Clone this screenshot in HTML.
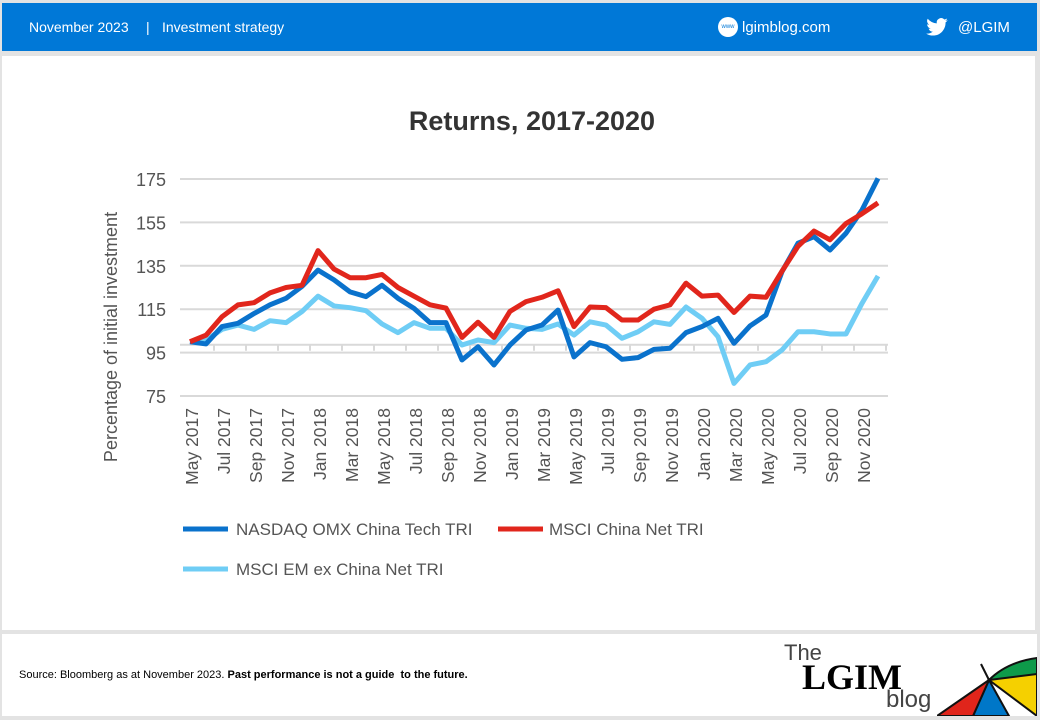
<!DOCTYPE html>
<html><head><meta charset="utf-8"><style>
body{margin:0;width:1040px;height:720px;background:#e3e3e3;font-family:"Liberation Sans",sans-serif;overflow:hidden;position:relative}
.hdr{position:absolute;left:2px;top:3px;width:1035px;height:48px;background:#0078d7;color:#fff;font-size:14px}
.panel{position:absolute;left:2px;top:56px;width:1033px;height:574px;background:#fff}
.foot{position:absolute;left:2px;top:634px;width:1035px;height:82px;background:#fff}
</style></head><body>
<div class="hdr">
<span style="position:absolute;left:27px;top:16px">November 2023</span>
<span style="position:absolute;left:144px;top:16px">|</span>
<span style="position:absolute;left:160px;top:16px">Investment strategy</span>
<span style="position:absolute;left:716px;top:14px;width:20px;height:20px;border-radius:50%;background:#fff;color:#0078d7;font-size:6px;text-align:center;line-height:20px">www</span>
<span style="position:absolute;left:740px;top:16px;font-size:15px">lgimblog.com</span>
<svg style="position:absolute;left:924px;top:15px" width="22" height="18" viewBox="0 0 24 20"><path fill="#fff" d="M24 2.4a10 10 0 0 1-2.8.8A5 5 0 0 0 23.3.5a10 10 0 0 1-3.1 1.2A4.9 4.9 0 0 0 11.8 6 14 14 0 0 1 1.7.9a4.9 4.9 0 0 0 1.5 6.6A4.9 4.9 0 0 1 1 6.9a4.9 4.9 0 0 0 3.9 4.8 5 5 0 0 1-2.2.1 4.9 4.9 0 0 0 4.6 3.4A9.9 9.9 0 0 1 0 17.3 14 14 0 0 0 7.5 19.5c9 0 14-7.5 14-14v-.6A10 10 0 0 0 24 2.4z"/></svg>
<span style="position:absolute;left:956px;top:16px;font-size:15px">@LGIM</span>
</div>
<div class="panel"></div>
<div class="foot">
<span style="position:absolute;left:17px;top:35px;font-size:11px;color:#000">Source: Bloomberg as at November 2023. <b>Past performance is not a guide&nbsp; to the future.</b></span>
<span style="position:absolute;left:782px;top:6px;font-size:22px;color:#444">The</span>
<span style="position:absolute;left:800px;top:22px;font-size:36px;font-weight:bold;font-family:'Liberation Serif',serif;color:#000">LGIM</span>
<span style="position:absolute;left:884px;top:52px;font-size:24px;color:#444">blog</span>
<svg style="position:absolute;left:935px;top:0" width="100" height="82">
<clipPath id="cp"><rect width="100" height="82"/></clipPath>
<g clip-path="url(#cp)" stroke="#111" stroke-width="2">
<path d="M52 46 L100 26 L100 82 Z" fill="#f5d000"/>
<path d="M52 46 L36 82 L72 82 Z" fill="#0077c8"/>
<path d="M52 46 L0 82 L36 82 Z" fill="#e0251b"/>
<path d="M52 46 Q70 28 100 24 L100 40 Z" fill="#0e9a4a"/>
<path d="M44 30 L52 46" fill="none"/>
</g></svg>
</div>
<svg width="1040" height="720" style="position:absolute;left:0;top:0" id="chart">
<text x="532" y="130" text-anchor="middle" font-size="27" font-weight="bold" fill="#333">Returns, 2017-2020</text>
<text transform="translate(117,337) rotate(-90)" text-anchor="middle" font-size="18" fill="#555">Percentage of initial investment</text>
<g id="grid"></g><g id="xlab"></g><g id="series"></g>
<g>
<line x1="183" y1="529" x2="228" y2="529" stroke="#0a72cc" stroke-width="5"/>
<text x="236" y="535" font-size="17" fill="#555">NASDAQ OMX China Tech TRI</text>
<line x1="498" y1="529" x2="543" y2="529" stroke="#e1261c" stroke-width="5"/>
<text x="549" y="535" font-size="17" fill="#555">MSCI China Net TRI</text>
<line x1="183" y1="569" x2="228" y2="569" stroke="#6fcdf5" stroke-width="5"/>
<text x="236" y="575" font-size="17" fill="#555">MSCI EM ex China Net TRI</text>
</g>
</svg>
<script>
const months=["May","Jun","Jul","Aug","Sep","Oct","Nov","Dec","Jan","Feb","Mar","Apr"];
const yTicks=[75,95,115,135,155,175];
const nasdaq=[100,99,107,108.5,113,117,120,125.5,133,128.5,123,120.8,126,120,115.4,108.8,108.8,91.6,97.7,89.3,98.5,105.4,107.7,114.6,93,99.6,97.7,91.9,92.7,96.5,97,104.2,107,110.8,99.3,107.3,112.3,132.3,145.4,148.4,142.3,150,160.7,175.3];
const msciChina=[100,103,111.5,117,118,122.5,125,126,142,133.5,129.5,129.5,131,125,121,117,115.5,102,109,102,114,118.5,120.5,123.5,107,116,115.7,110,110,115,117,127,121,121.5,113.5,121,120.5,132.5,144,151,147,154.5,159,164];
const msciEm=[100,100.8,105.7,107.7,105.7,109.7,108.8,113.9,121,116.5,115.7,114.3,108.2,104.2,108.8,106.2,106.2,98.5,100.8,99.6,107.7,106.2,105.7,108.2,103.1,109.2,107.7,101.6,104.6,109.2,108,116,110.8,102.3,80.8,89.3,90.8,96.2,104.6,104.6,103.6,103.6,117.7,130.3];
const NS="http://www.w3.org/2000/svg";
const x0=190,dx=16,n=nasdaq.length;
const X=i=>x0+i*dx, Y=v=>179+(175-v)*2.17;
function el(t,a,p){const e=document.createElementNS(NS,t);for(const k in a)e.setAttribute(k,a[k]);p.appendChild(e);return e;}
const grid=document.getElementById('grid');
yTicks.forEach(v=>{
 const l=el('line',{x1:180,x2:888,y1:Y(v),y2:Y(v),stroke:'#d9d9d9','stroke-width':2},grid);
 
 
 const t=el('text',{x:166,y:Y(v)+7,'text-anchor':'end','font-size':18,fill:'#555'},grid);t.textContent=v;
 
 
});
const ax=el('line',{x1:180,x2:888,y1:Y(100)+3,y2:Y(100)+3,stroke:'#d9d9d9','stroke-width':2},grid);


const xl=document.getElementById('xlab');
for(let i=0;i<n;i++){
 if(i%2==1){const tk=el('line',{x1:X(i)+8,x2:X(i)+8,y1:Y(100)+3,y2:Y(100)+9,stroke:'#d9d9d9','stroke-width':2},xl);
 
 }
 if(i%2==0){const m=months[i%12],yr=2017+Math.floor((i+4)/12);
 const t=el('text',{transform:`translate(${X(i)+8},408) rotate(-90)`,'text-anchor':'end','font-size':17.5,fill:'#555'},xl);
 t.textContent=m+' '+yr;
 
 }
}
const sg=document.getElementById('series');
[[msciEm,'#6fcdf5','line-msci-em'],[nasdaq,'#0a72cc','line-nasdaq'],[msciChina,'#e1261c','line-msci-china']].forEach(([d,c,nm])=>{
 const p=el('polyline',{points:d.map((v,i)=>X(i)+','+Y(v)).join(' '),fill:'none',stroke:c,'stroke-width':5,'stroke-linejoin':'round'},sg);
 
 
});
</script>
</body></html>
